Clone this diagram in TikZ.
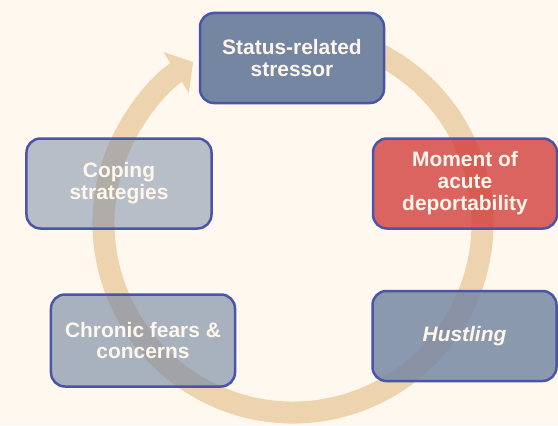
\documentclass[tikz,border=0pt]{standalone}
\usepackage{fontspec}
\setmainfont{Liberation Sans}
\usetikzlibrary{arrows.meta}

\definecolor{cream}{HTML}{FEF8EE}
\definecolor{ringtan}{HTML}{EDD3AE}
\definecolor{slateblue}{HTML}{7486A2}
\definecolor{rimblue}{HTML}{4A55A8}
\definecolor{alertred}{HTML}{D33E3D}
\definecolor{labelwhite}{HTML}{FFF7EB}

\begin{document}
\begin{tikzpicture}[x=1bp,y=1bp,
  stage/.style={draw=rimblue, line width=2.5bp, rounded corners=14bp,
    fill=slateblue, text=labelwhite, align=center, inner sep=0pt,
    font=\fontsize{21}{22}\selectfont\bfseries,
    minimum width=184bp, minimum height=90bp}]

\fill[cream] (0,0) rectangle (558,425);
\useasboundingbox (0,0) rectangle (558,425);

% the cycle ring
\coordinate (hub) at (293,202);
\draw[ringtan, line width=22bp, -{Triangle[width=47bp,length=20bp]}]
  (hub) ++(65:189.5) arc[start angle=65, end angle=-238.2, radius=189.5];

\node[stage] (stressor) at (292,367) {Status-related\\stressor};
\node[stage, fill=alertred, fill opacity=0.8, text opacity=1] (moment) at (465,241.5) {Moment of\\acute\\deportability};
\node[stage, fill opacity=0.83, text opacity=1] (hustling) at (464.5,89) {\itshape Hustling};
\node[stage, fill opacity=0.62, text opacity=1, minimum height=92bp] (fears) at (143,84.5) {Chronic fears \&\\concerns};
\node[stage, fill opacity=0.5, text opacity=1, minimum width=185bp] (coping) at (119,241.5) {Coping\\strategies};
\end{tikzpicture}
\end{document}
